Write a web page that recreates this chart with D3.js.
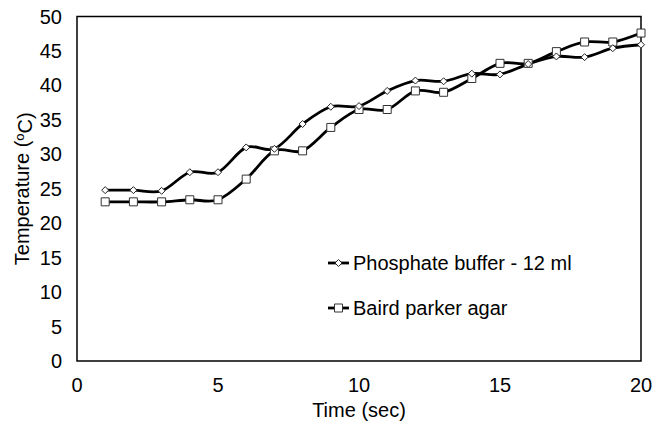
<!DOCTYPE html>
<html>
<head>
<meta charset="utf-8">
<script src="https://cdn.jsdelivr.net/npm/d3@7"></script>
<style>
  body { margin: 0; background: #fff; }
  text { font-family: "Liberation Sans", Arial, sans-serif; fill: #000; }
</style>
</head>
<body>
<div id="chart"></div>
<script>
const times = [1, 2, 3, 4, 5, 6, 7, 8, 9, 10, 11, 12, 13, 14, 15, 16, 17, 18, 19, 20];
const phosphate = [24.8, 24.8, 24.7, 27.4, 27.4, 31.0, 30.8, 34.4, 36.9, 37.0, 39.2, 40.7, 40.6, 41.7, 41.6, 43.1, 44.2, 44.1, 45.4, 45.9];
const baird = [23.1, 23.1, 23.1, 23.4, 23.4, 26.4, 30.5, 30.5, 33.9, 36.5, 36.5, 39.2, 39.0, 41.0, 43.2, 43.2, 44.9, 46.3, 46.3, 47.6];
const xTicks = [0, 5, 10, 15, 20];
const yTicks = [0, 5, 10, 15, 20, 25, 30, 35, 40, 45, 50];
const seriesNames = ["Phosphate buffer - 12 ml", "Baird parker agar"];

const W = 664, H = 433;
const margin = { top: 16.5, right: 23, bottom: 72, left: 77 };
const width = W - margin.left - margin.right;
const height = H - margin.top - margin.bottom;

const svg = d3.select("#chart").append("svg")
    .attr("width", W)
    .attr("height", H);

const g = svg.append("g")
    .attr("transform", `translate(${margin.left},${margin.top})`);

const x = d3.scaleLinear().domain([0, 20]).range([0, width]);
const y = d3.scaleLinear().domain([0, 50]).range([height, 0]);

// plot frame
g.append("rect")
    .attr("width", width)
    .attr("height", height)
    .attr("fill", "none")
    .attr("stroke", "#000")
    .attr("stroke-width", 1.5);

// tick labels
g.selectAll(".ylab")
    .data(yTicks)
    .enter()
    .append("text")
    .attr("x", -15)
    .attr("y", d => y(d))
    .attr("dy", "0.35em")
    .attr("text-anchor", "end")
    .style("font-size", "20px")
    .text(d => d);

g.selectAll(".xlab")
    .data(xTicks)
    .enter()
    .append("text")
    .attr("x", d => x(d))
    .attr("y", height + 31)
    .attr("text-anchor", "middle")
    .style("font-size", "20px")
    .text(d => d);

// axis titles
g.append("text")
    .attr("x", width / 2)
    .attr("y", height + 56)
    .attr("text-anchor", "middle")
    .style("font-size", "20px")
    .text("Time (sec)");

const yt = svg.append("text")
    .attr("transform", `translate(29,${margin.top + height / 2}) rotate(-90)`)
    .attr("text-anchor", "middle")
    .style("font-size", "20px");
yt.append("tspan").text("Temperature (");
yt.append("tspan").attr("dy", "-0.4em").style("font-size", "13px").text("o");
yt.append("tspan").attr("dy", "0.4em").text("C)");

const line = d3.line()
    .x(d => x(d[0]))
    .y(d => y(d[1]))
    .curve(d3.curveCatmullRom.alpha(0));

const pts1 = times.map((t, i) => [t, phosphate[i]]);
const pts2 = times.map((t, i) => [t, baird[i]]);

function diamond(sel) {
    sel.attr("d", "M0,-3.5L3.5,0L0,3.5L-3.5,0Z")
        .attr("fill", "#fff")
        .attr("stroke", "#222")
        .attr("stroke-width", 1);
}
function square(sel) {
    sel.attr("d", "M-4,-4H4V4H-4Z")
        .attr("fill", "#fff")
        .attr("stroke", "#333")
        .attr("stroke-width", 1);
}

g.append("path").datum(pts2)
    .attr("fill", "none").attr("stroke", "#000").attr("stroke-width", 2.8)
    .attr("d", line);
g.append("path").datum(pts1)
    .attr("fill", "none").attr("stroke", "#000").attr("stroke-width", 2.8)
    .attr("d", line);

g.selectAll(".sq")
    .data(pts2)
    .enter()
    .append("path")
    .attr("transform", d => `translate(${x(d[0])},${y(d[1])})`)
    .call(square);

g.selectAll(".dm")
    .data(pts1)
    .enter()
    .append("path")
    .attr("transform", d => `translate(${x(d[0])},${y(d[1])})`)
    .call(diamond);

// legend
const legend = svg.append("g").attr("transform", "translate(328,263)");
const legItems = legend.selectAll("g")
    .data(seriesNames)
    .enter()
    .append("g")
    .attr("transform", (d, i) => `translate(0,${i * 45})`);

legItems.append("line")
    .attr("x1", 0).attr("x2", 21)
    .attr("stroke", "#000").attr("stroke-width", 2.8);

legItems.append("path")
    .attr("transform", "translate(10.5,0)")
    .each(function (d, i) {
        d3.select(this).call(i === 0 ? diamond : square);
    });

legItems.append("text")
    .attr("x", 25)
    .attr("dy", "0.35em")
    .style("font-size", "20px")
    .text(d => d);
</script>
</body>
</html>
